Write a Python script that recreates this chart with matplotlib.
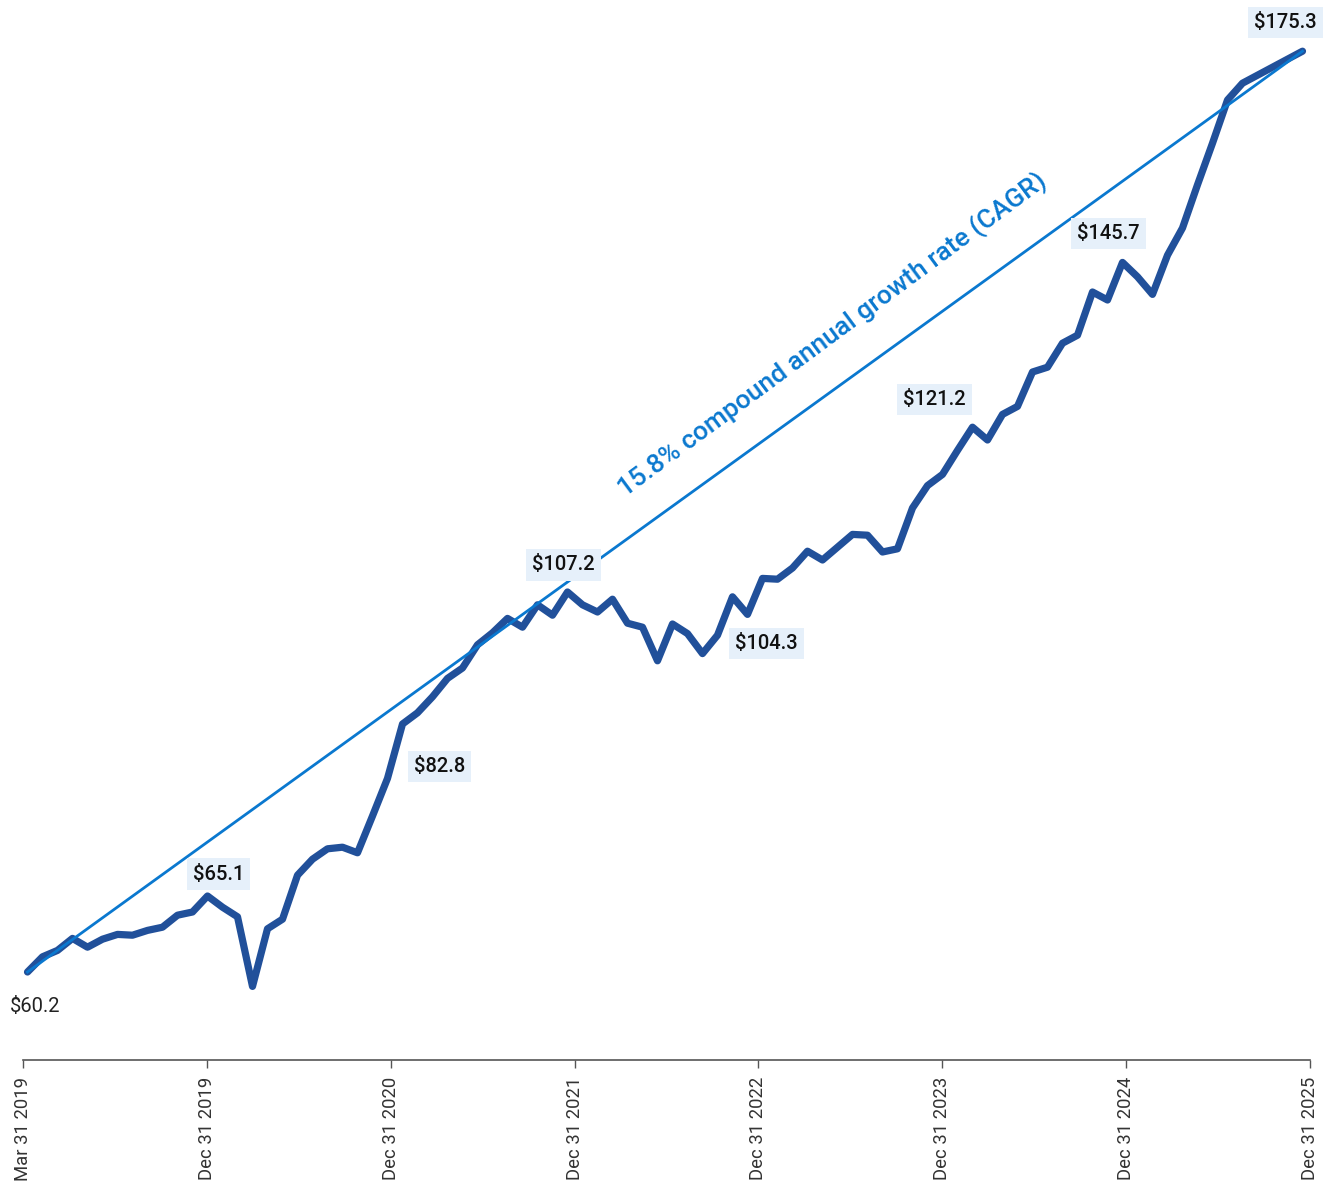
import numpy as np
import matplotlib.pyplot as plt

# growth of the portfolio value, one point per period
values = [60.2, 62.1, 62.9, 64.4, 63.3, 64.3, 64.9, 64.8, 65.4, 65.8,
          67.3, 67.7, 69.7, 68.3, 67.1, 58.4, 65.6, 66.8, 72.3, 74.3,
          75.6, 75.8, 75.1, 79.7, 84.4, 91.2, 92.6, 94.6, 96.9, 98.2,
          101.1, 102.6, 104.4, 103.3, 106.1, 104.8, 107.7, 106.1, 105.2, 106.8,
          103.8, 103.3, 99.1, 103.7, 102.5, 100.0, 102.3, 107.1, 104.9, 109.4,
          109.3, 110.7, 112.8, 111.7, 113.3, 114.9, 114.8, 112.7, 113.1, 118.2,
          121.0, 122.4, 125.4, 128.3, 126.7, 129.9, 130.9, 135.2, 135.8, 138.8,
          139.8, 145.2, 144.2, 148.9, 147.1, 144.9, 149.8, 153.2, 158.6, 163.8,
          169.2, 171.3, 172.3, 173.3, 174.3, 175.3]

tick_labels = ["Mar 31 2019", "Dec 31 2019", "Dec 31 2020", "Dec 31 2021",
               "Dec 31 2022", "Dec 31 2023", "Dec 31 2024", "Dec 31 2025"]

label_idx = [0, 12, 24, 36, 45, 61, 73, 85]
label_text = ["$60.2", "$65.1", "$82.8", "$107.2", "$104.3", "$121.2", "$145.7", "$175.3"]
label_off = [(8, -34), (11, 22), (52, 12), (-4, 27), (64, 10), (-8, 75), (-14, 29), (-17, 29)]

cagr_text = "15.8% compound annual growth rate (CAGR)"

dark = "#21509a"
light = "#0a78cf"

fig = plt.figure(figsize=(13.29, 11.88), dpi=100)
ax = fig.add_axes([23/1329, 1 - 1060/1188, 1287/1329, 1060/1188])

x = np.arange(len(values))
ax.plot(x, values, color=dark, lw=5.2, solid_capstyle="round", solid_joinstyle="round", zorder=2)
ax.plot([x[0], x[-1]], [values[0], values[-1]], color=light, lw=2.0, zorder=3)

ax.set_xlim(-0.3, 85.5)
ax.set_ylim(49.2, 181.7)

for i, t, off in zip(label_idx, label_text, label_off):
    txt = t.replace("$", "\\$")
    if i == 0:
        ax.annotate(txt, (x[i], values[i]), xytext=off, textcoords="offset pixels",
                    ha="center", va="center", fontsize=14.5, family="Roboto", color="#222222")
    else:
        ax.annotate(txt, (x[i], values[i]), xytext=off, textcoords="offset pixels",
                    ha="center", va="center", fontsize=14.5, family="Roboto", fontweight="medium",
                    color="#111111",
                    bbox=dict(boxstyle="square,pad=0.3", fc="#e6f0fa", ec="none"))

# label along the CAGR line
mid = 53.8
mid_val = values[0] + (values[-1] - values[0]) * mid / x[-1]
ax.annotate(cagr_text, (mid, mid_val), xytext=(-2, 54), textcoords="offset pixels",
            ha="center", va="center", rotation=36.5, fontsize=19, family="Roboto",
            fontweight="medium", color=light)

ax.set_xticks(np.linspace(-0.3, 85.5, len(tick_labels)))
ax.set_xticklabels(tick_labels, rotation=90, fontsize=13.3, family="Roboto", fontweight="normal",
                   color="#333333")
ax.tick_params(axis="x", length=6, width=1, color="#555555", pad=6)
ax.set_yticks([])
for s in ["top", "left", "right"]:
    ax.spines[s].set_visible(False)
ax.spines["bottom"].set_color("#555555")
ax.spines["bottom"].set_linewidth(1.2)

fig.savefig("out.png", dpi=100)
